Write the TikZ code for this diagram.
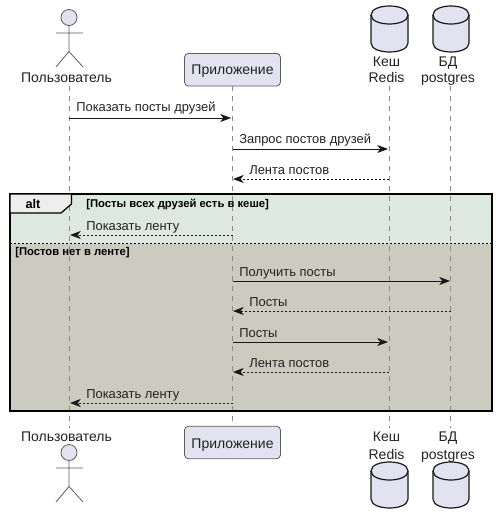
\documentclass[tikz,border=0pt]{standalone}
\usepackage{fontspec}
\setmainfont{Liberation Sans}
\usetikzlibrary{arrows.meta}
\definecolor{partfill}{HTML}{E2E2F0}
\definecolor{partline}{HTML}{181818}
\definecolor{lifecol}{HTML}{8A8A8A}
\definecolor{altgreen}{HTML}{DDE8E0}
\definecolor{altgrey}{HTML}{CCCBC0}
\definecolor{tabfill}{HTML}{EEEEEE}
\definecolor{txtcol}{HTML}{222222}
\tikzset{
  x=0.75pt,y=-0.75pt,
  lifeline/.style={draw=lifecol,line width=0.75pt,dash pattern=on 3.75pt off 3.75pt},
  msg/.style={draw=partline,line width=0.7pt,-{Stealth[length=8pt,width=6pt,inset=2.2pt]}},
  reply/.style={msg,line width=0.6pt,dash pattern=on 1.5pt off 1.5pt},
  msglabel/.style={font=\fontsize{9.7pt}{11pt}\selectfont,text=txtcol,inner sep=0pt,anchor=base west},
  partlabel/.style={font=\fontsize{10.5pt}{12pt}\selectfont,text=txtcol,inner sep=0pt,anchor=base},
  guard/.style={font=\fontsize{8.45pt}{10pt}\selectfont\bfseries,text=black,inner sep=0pt,anchor=base west},
  partbox/.style={draw=partline!70,fill=partfill,line width=0.6pt,rounded corners=3pt},
  actorline/.style={draw=partline!70,line width=0.6pt},
  dbshape/.style={draw=partline,fill=partfill,line width=0.9pt},
  framebox/.style={draw=black,line width=1.5pt},
  altsep/.style={draw=black,line width=0.8pt,dash pattern=on 1.5pt off 1.5pt},
}
\newcommand{\actorfig}[1]{%
  \draw[actorline,fill=partfill] (69,#1) circle[radius=8];
  \draw[actorline] (69,#1+8) -- (69,#1+34) (56,#1+15.5) -- (83,#1+15.5)
    (56,#1+49.5) -- (69,#1+34) -- (83,#1+49.5);
}
\newcommand{\dbfig}[3]{% left, right, top
  \draw[dbshape] (#1,#3+9) .. controls (#1,#3-3) and (#2,#3-3) .. (#2,#3+9)
    -- (#2,#3+37) .. controls (#2,#3+49) and (#1,#3+49) .. (#1,#3+37) -- cycle;
  \draw[dbshape,fill=none] (#1,#3+9) .. controls (#1,#3+21) and (#2,#3+21) .. (#2,#3+9);
}
\begin{document}
\begin{tikzpicture}
\useasboundingbox (0,0) rectangle (498,524);
% frame background
\fill[altgreen] (10,194) rectangle (492,244);
\fill[altgrey] (10,244) rectangle (492,411);
% lifelines
\coordinate (uT) at (69,86); \coordinate (uB) at (69,428);
\coordinate (aT) at (232.5,86); \coordinate (aB) at (232.5,427);
\coordinate (rT) at (389,86); \coordinate (rB) at (389,428);
\coordinate (pT) at (450.5,86); \coordinate (pB) at (450.5,428);
\draw[lifeline] (uT) -- (uB);
\draw[lifeline] (aT) -- (aB);
\draw[lifeline] (rT) -- (rB);
\draw[lifeline] (pT) -- (pB);
% frame
\draw[altsep] (10,243.5) -- (492,243.5);
\draw[framebox] (10,194) rectangle (492,411);
\draw[line width=0.9pt,draw=black,fill=tabfill] (10,194) -- (71.5,194) -- (71.5,204) -- (61,213) -- (10,213) -- cycle;
\node[font=\fontsize{9.5pt}{11pt}\selectfont\bfseries,text=black,inner sep=0pt,anchor=base] (alttag) at (33,208) {alt};
\node[guard] (g1) at (86,207.5) {[Посты всех друзей есть в кеше]};
\node[guard] (g2) at (15,255) {[Постов нет в ленте]};
% participants top
\actorfig{17.5}
\node[partlabel] (uTop) at (66.5,83) {Пользователь};
\node[partbox,minimum width=72pt,minimum height=24.5pt,inner sep=0pt] (appTop) at (232.5,69.75) {};
\node[partlabel] (appTopL) at (232.5,75) {Приложение};
\dbfig{371}{408}{6}
\dbfig{433}{469}{6}
\node[partlabel] (rTop1) at (386.5,67) {Кеш};
\node[partlabel] (rTop2) at (386.5,83) {Redis};
\node[partlabel] (pTop1) at (448,67) {БД};
\node[partlabel] (pTop2) at (448,83) {postgres};
% participants bottom
\node[partlabel] (uBot) at (66.5,441) {Пользователь};
\node[partbox,minimum width=72pt,minimum height=24.5pt,inner sep=0pt] (appBot) at (232.5,442.5) {};
\node[partlabel] (appBotL) at (232.5,448) {Приложение};
\actorfig{452.5}
\node[partlabel] (rBot1) at (386.5,441) {Кеш};
\node[partlabel] (rBot2) at (386.5,459) {Redis};
\node[partlabel] (pBot1) at (448,441) {БД};
\node[partlabel] (pBot2) at (448,459) {postgres};
\dbfig{371}{408}{462}
\dbfig{433}{469}{462}
% messages
\coordinate (m1a) at (69,118); \coordinate (m1b) at (231,118);
\coordinate (m2a) at (232.5,149); \coordinate (m2b) at (388,149);
\coordinate (m3a) at (389,179); \coordinate (m3b) at (233,179);
\coordinate (m4a) at (232.5,235); \coordinate (m4b) at (70,235);
\coordinate (m5a) at (232.5,281); \coordinate (m5b) at (450,281);
\coordinate (m6a) at (450.5,311); \coordinate (m6b) at (233,311);
\coordinate (m7a) at (232.5,342); \coordinate (m7b) at (388,342);
\coordinate (m8a) at (389,372); \coordinate (m8b) at (233,372);
\coordinate (m9a) at (232.5,403); \coordinate (m9b) at (70,403);
\draw[msg] (m1a) -- (m1b);
\draw[msg] (m2a) -- (m2b);
\draw[reply] (m3a) -- (m3b);
\draw[reply] (m4a) -- (m4b);
\draw[msg] (m5a) -- (m5b);
\draw[reply] (m6a) -- (m6b);
\draw[msg] (m7a) -- (m7b);
\draw[reply] (m8a) -- (m8b);
\draw[reply] (m9a) -- (m9b);
\node[msglabel] (l1) at (76,112) {Показать посты друзей};
\node[msglabel] (l2) at (239,144) {Запрос постов друзей};
\node[msglabel] (l3) at (249,174) {Лента постов};
\node[msglabel] (l4) at (86,230) {Показать ленту};
\node[msglabel] (l5) at (239,276) {Получить посты};
\node[msglabel] (l6) at (249,306) {Посты};
\node[msglabel] (l7) at (239,337) {Посты};
\node[msglabel] (l8) at (249,367) {Лента постов};
\node[msglabel] (l9) at (86,398) {Показать ленту};
\end{tikzpicture}
\end{document}
